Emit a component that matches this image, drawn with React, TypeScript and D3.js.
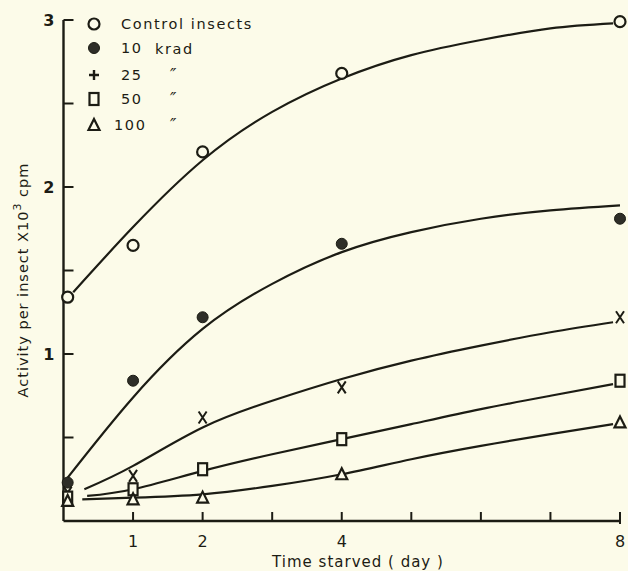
import React from 'react';
import * as d3 from 'd3';

// measured points (day, activity x10^3 cpm)
const days = [0.06, 1, 2, 4, 8];
const control = [1.34, 1.65, 2.21, 2.68, 2.99];
const krad10 = [0.23, 0.84, 1.22, 1.66, 1.81];
const krad25 = [0.17, 0.27, 0.62, 0.8, 1.22];
const krad50 = [0.14, 0.19, 0.31, 0.49, 0.84];
const krad100 = [0.12, 0.13, 0.14, 0.28, 0.59];

// fitted curves
const controlCurveDays = [0.14, 1, 2, 3, 4, 5, 6, 7, 7.9];
const controlCurve = [1.37, 1.76, 2.16, 2.45, 2.65, 2.79, 2.88, 2.95, 2.98];
const krad10CurveDays = [0.06, 1, 2, 3, 4, 5, 6, 7, 8];
const krad10Curve = [0.26, 0.74, 1.15, 1.42, 1.61, 1.73, 1.81, 1.86, 1.89];
const krad25CurveDays = [0.3, 1, 2, 3, 4, 5, 6, 7, 7.9];
const krad25Curve = [0.19, 0.33, 0.56, 0.72, 0.85, 0.96, 1.05, 1.13, 1.19];
const krad50CurveDays = [0.34, 1, 2, 3, 4, 5, 6, 7, 7.9];
const krad50Curve = [0.15, 0.19, 0.3, 0.4, 0.49, 0.58, 0.67, 0.75, 0.82];
const krad100CurveDays = [0.27, 1, 2, 3, 4, 5, 6, 7, 7.9];
const krad100Curve = [0.13, 0.14, 0.16, 0.21, 0.28, 0.37, 0.45, 0.52, 0.58];

const xTicks = [1, 2, 3, 4, 5, 6, 7, 8];
const xTickLabels = [1, 2, 4, 8];
const yTicks = [0.5, 1, 1.5, 2, 2.5, 3];
const yTickLabels = [1, 2, 3];

const legendLabels = ['Control insects', '10', '25', '50', '100'];
const legendUnits = ['', 'krad', '\u2033', '\u2033', '\u2033'];

const INK = '#1c1c14';
const PAPER = '#fcfbe9';
const FONT = '"DejaVu Sans", sans-serif';

const x = d3.scaleLinear().domain([0, 8]).range([63.5, 620]);
const y = d3.scaleLinear().domain([0, 3]).range([521, 20]);

const line = (xs: number[], ys: number[]) =>
  d3.line<number>()
    .x((d, i) => x(xs[i]))
    .y(d => y(d))
    .curve(d3.curveNatural)(ys) || '';

const Marker = ({ kind, cx, cy }: { kind: string; cx: number; cy: number }) => {
  if (kind === 'circle')
    return <circle cx={cx} cy={cy} r={5.5} fill={PAPER} stroke={INK} strokeWidth={2.2} />;
  if (kind === 'dot')
    return <circle cx={cx} cy={cy} r={5.5} fill="#2e2e28" stroke={INK} strokeWidth={1} />;
  if (kind === 'square')
    return <rect x={cx - 4.5} y={cy - 6} width={9} height={12} fill={PAPER} stroke={INK} strokeWidth={2.2} />;
  if (kind === 'triangle')
    return <path d={`M${cx},${cy - 6}L${cx + 5.5},${cy + 5}L${cx - 5.5},${cy + 5}Z`} fill={PAPER} stroke={INK} strokeWidth={2.2} />;
  if (kind === 'x')
    return <path d={`M${cx - 4},${cy - 6}L${cx + 4},${cy + 6}M${cx + 4},${cy - 6}L${cx - 4},${cy + 6}`} stroke={INK} strokeWidth={2} fill="none" />;
  // plus
  return <path d={`M${cx - 5},${cy}L${cx + 5},${cy}M${cx},${cy - 5}L${cx},${cy + 5}`} stroke={INK} strokeWidth={2.4} fill="none" />;
};

const App = () => {
  const series = [
    { vals: control, cd: controlCurveDays, cv: controlCurve, kind: 'circle' },
    { vals: krad10, cd: krad10CurveDays, cv: krad10Curve, kind: 'dot' },
    { vals: krad25, cd: krad25CurveDays, cv: krad25Curve, kind: 'x' },
    { vals: krad50, cd: krad50CurveDays, cv: krad50Curve, kind: 'square' },
    { vals: krad100, cd: krad100CurveDays, cv: krad100Curve, kind: 'triangle' },
  ];
  const legendKinds = ['circle', 'dot', 'plus', 'square', 'triangle'];
  const legendRows = [24, 48, 75, 99, 125];

  return (
    <svg width={628} height={571} style={{ position: 'absolute', left: 0, top: 0 }} fontFamily={FONT}>
      <rect width={628} height={571} fill={PAPER} />

      {/* axes */}
      <line x1={x(0)} x2={x(0)} y1={y(3)} y2={y(0)} stroke={INK} strokeWidth={2.4} />
      <line x1={x(0)} x2={x(8)} y1={y(0)} y2={y(0)} stroke={INK} strokeWidth={2.4} />
      {yTicks.map(t => (
        <line key={t} x1={x(0)} x2={x(0) + 10} y1={y(t)} y2={y(t)} stroke={INK} strokeWidth={2} />
      ))}
      {xTicks.map(t => (
        <line key={t} x1={x(t)} x2={x(t)} y1={y(0) + (t === 8 ? 3 : 0)} y2={y(0) - 9} stroke={INK} strokeWidth={2} />
      ))}
      {yTickLabels.map(t => (
        <text key={t} x={x(0) - 9} y={y(t) + 6} textAnchor="end" fontSize={16} fontWeight="bold" fill={INK}>{t}</text>
      ))}
      {xTickLabels.map(t => (
        <text key={t} x={x(t)} y={y(0) + 26} textAnchor="middle" fontSize={16} fill={INK}>{t}</text>
      ))}
      <text x={358} y={567} textAnchor="middle" fontSize={15} letterSpacing={1} fill={INK}>Time starved ( day )</text>
      <text transform="translate(28,280) rotate(-90)" textAnchor="middle" fontSize={14.5} letterSpacing={1} fill={INK}>
        Activity per insect X10<tspan dy={-7} fontSize={11}>3</tspan><tspan dy={7}> cpm</tspan>
      </text>

      {/* curves */}
      {series.map((s, i) => (
        <path key={'c' + i} d={line(s.cd, s.cv)} fill="none" stroke={INK} strokeWidth={2.2} />
      ))}
      {/* points */}
      {series.map((s, i) =>
        s.vals.map((v, j) => <Marker key={'m' + i + '-' + j} kind={s.kind} cx={x(days[j])} cy={y(v)} />)
      )}

      {/* legend */}
      {legendLabels.map((l, i) => (
        <g key={l}>
          <Marker kind={legendKinds[i]} cx={94} cy={legendRows[i]} />
          <text x={i === 4 ? 114 : 121} y={legendRows[i] + 5} fontSize={14.5} letterSpacing={1.6} fill={INK}>{l}</text>
          {legendUnits[i] && (
            <text x={i === 1 ? 155 : 170} y={legendRows[i] + 6} fontSize={i === 1 ? 14.5 : 17} fontStyle={i === 1 ? 'normal' : 'italic'} letterSpacing={1.6} fill={INK}>{legendUnits[i]}</text>
          )}
        </g>
      ))}
    </svg>
  );
};

export default App;
